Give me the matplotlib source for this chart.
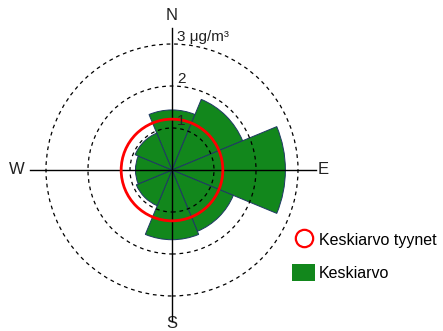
import numpy as np
import matplotlib.pyplot as plt
from matplotlib.patches import Wedge, Circle, Patch
from matplotlib.lines import Line2D

plt.rcParams['font.family'] = ['Liberation Sans', 'DejaVu Sans']

# wind directions (compass degrees) and mean concentration per sector
directions = [0, 45, 90, 135, 180, 225, 270, 315]
means = [1.43, 1.82, 2.70, 1.58, 1.66, 0.92, 0.87, 0.95]
calm_mean = 1.21
rings = [1, 2, 3]
ring_labels = ["1", "2", "3 \u03bcg/m\u00b3"]
compass = ["N", "E", "S", "W"]

W, H = 443, 331
cx, cy, scale = 172, 170, 42.0  # pixel centre, pixels per unit

fig = plt.figure(figsize=(W / 100, H / 100), dpi=100)
ax = fig.add_axes([0, 0, 1, 1])
ax.set_xlim(-cx / scale, (W - cx) / scale)
ax.set_ylim(-(H - cy) / scale, cy / scale)
ax.axis('off')

width = 360 / len(directions)
for d, v in zip(directions, means):
    t1 = 90 - d - width / 2
    t2 = 90 - d + width / 2
    ax.add_patch(Wedge((0, 0), v, t1, t2, facecolor='#12871c',
                       edgecolor='#1f3864', linewidth=0.7, zorder=2))

for r in rings:
    ax.add_patch(Circle((0, 0), r, fill=False, edgecolor='black',
                        linestyle=(0, (3, 3)), linewidth=0.9, zorder=3))

ax.plot([-3.38, 3.43], [0, 0], color='black', linewidth=1, zorder=4)
ax.plot([0, 0], [-3.6, 3.38], color='black', linewidth=1, zorder=4)

ax.add_patch(Circle((0, 0), calm_mean, fill=False, edgecolor='#ff0000',
                    linewidth=2, zorder=5))

for r, lab in zip(rings, ring_labels):
    ax.text(0.12, r + 0.06, lab, fontsize=11, ha='left', va='baseline',
            color='#222222', zorder=6)

pos = {"N": (0, 3.69), "E": (3.6, 0), "S": (0, -3.66), "W": (-3.69, 0)}
for c in compass:
    x, y = pos[c]
    ax.text(x, y, c, fontsize=12, ha='center', va='center', color='#222222')

handles = [Line2D([], [], linestyle='none', marker='o', markersize=12.5,
                  markerfacecolor='white', markeredgecolor='#ff0000',
                  markeredgewidth=1.6),
           Patch(facecolor='#12871c', edgecolor='none')]
fig.legend(handles, ["Keskiarvo tyynet", "Keskiarvo"], loc='upper left',
           bbox_to_anchor=(292 / W, 1 - 231 / H), frameon=False,
           fontsize=11.5, handlelength=1.45, handleheight=1.3,
           handletextpad=0.25, labelspacing=0.95, borderpad=0,
           borderaxespad=0)

fig.savefig('out.png', dpi=100)
